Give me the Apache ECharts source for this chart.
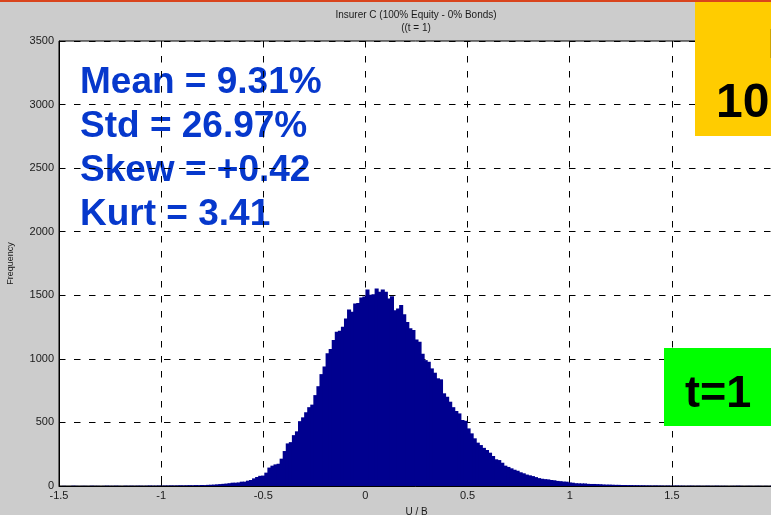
<!DOCTYPE html>
<html>
<head>
<meta charset="utf-8">
<script src="https://cdn.jsdelivr.net/npm/echarts@6/dist/echarts.min.js"></script>
<style>html,body{margin:0;padding:0;background:#cccccc;}#chart{width:771px;height:515px;}</style>
</head>
<body>
<div id="chart"></div>
<script>
// ---- data ----
const titleLines = ["Insurer C (100% Equity - 0% Bonds)", "((t = 1)"];
const xAxisName = "U / B";
const yAxisName = "Frequency";
const xTicks = [-1.5, -1, -0.5, 0, 0.5, 1, 1.5, 2];
const yTicks = [0, 500, 1000, 1500, 2000, 2500, 3000, 3500];
const statLines = ["Mean = 9.31%", "Std = 26.97%", "Skew = +0.42", "Kurt = 3.41"];
const boxYellowText = ["Equity", "100%"];
const boxGreenText = "t=1";
const binStart = -1.5;
const binWidth = 0.015;
const counts = [
  0,1,0,0,2,1,0,1,1,0,2,1,1,0,1,2,1,1,2,1,0,2,1,2,1,2,2,1,2,3,2,
  2,3,2,3,3,4,3,4,5,4,
  5,6,5,7,6,8,7,9,
  10,11,13,15,
  17,19,22,26,26,28,34,34,42,47,
  60,71,80,82,105,145,160,170,175,215,
  275,335,345,400,430,510,540,580,620,640,
  715,785,880,940,1045,1077,1148,1213,1221,1252,
  1318,1389,1370,1436,1440,1483,1490,1546,1505,1509,
  1554,1527,1546,1527,1475,1493,1383,1397,1423,1350,
  1290,1240,1226,1153,1134,1040,990,977,925,891,
  847,839,729,702,663,620,590,571,519,513,
  453,414,375,341,322,300,283,262,236,210,
  204,183,160,150,139,128,120,108,100,90,
  84,78,70,62,57,54,52,47,45,40,
  38,35,34,28,26,22,21,20,20,17,
  16,16,15,14,
  12,11,11,10,9,9,8,8,7,7,6,6,5,5,
  4,4,3,4,3,3,2,3,2,2,3,2,2,1,2,2,1,2,1,1,2,1,1,2,1,1,1,0,1,1,2,1,0,1,1,0,1,1,0,1,0,1,1
];

// ---- build ----
const histData = counts.map((c, i) => [binStart + i * binWidth, binStart + (i + 1) * binWidth, c]);
const FONT = '"Liberation Sans", Arial, Helvetica, sans-serif';
const G = { left: 59, top: 41, width: 715, height: 445 };

const chart = echarts.init(document.getElementById('chart'), null, { renderer: 'canvas' });

const graphics = [
  { type: 'rect', z: -10, silent: true, shape: { x: G.left, y: G.top, width: G.width, height: G.height }, style: { fill: '#ffffff' } },
  { type: 'rect', z: 50, silent: true, shape: { x: 0, y: 0, width: 771, height: 2 }, style: { fill: '#d9441c' } },
  { type: 'text', z: 5, style: { text: titleLines[0], x: 416, y: 15, align: 'center', verticalAlign: 'middle', font: '10px ' + FONT, fill: '#1a1a1a' } },
  { type: 'text', z: 5, style: { text: titleLines[1], x: 416, y: 28, align: 'center', verticalAlign: 'middle', font: '10px ' + FONT, fill: '#1a1a1a' } },
  // yellow box
  { type: 'rect', z: 40, silent: true, shape: { x: 695, y: 2, width: 80, height: 134 }, style: { fill: '#ffcc00' } },
  { type: 'text', z: 41, style: { text: boxYellowText[0], x: 768, y: 25, verticalAlign: 'top', font: 'bold 42px ' + FONT, fill: '#000000' } },
  { type: 'text', z: 41, style: { text: boxYellowText[1], x: 716, y: 80, verticalAlign: 'top', font: 'bold 48px ' + FONT, fill: '#000000' } },
  // green box
  { type: 'rect', z: 40, silent: true, shape: { x: 664, y: 348, width: 110, height: 78 }, style: { fill: '#00ff00' } },
  { type: 'text', z: 41, style: { text: boxGreenText, x: 685, y: 372, verticalAlign: 'top', font: 'bold 45px ' + FONT, fill: '#000000' } }
];
const statTop = [64, 108, 152, 196];
statLines.forEach((t, i) => {
  graphics.push({ type: 'text', z: -5, style: { text: t, x: 80, y: statTop[i], verticalAlign: 'top', font: 'bold 37px ' + FONT, fill: '#0638cc' } });
});

const option = {
  backgroundColor: '#cccccc',
  animation: false,
  grid: {
    left: G.left, top: G.top, width: G.width, height: G.height,
    show: true, backgroundColor: 'transparent', borderColor: '#000', borderWidth: 1,
    containLabel: false, outerBoundsMode: 'none'
  },
  xAxis: {
    type: 'value', min: xTicks[0], max: xTicks[xTicks.length - 1], interval: 0.5,
    name: xAxisName, nameLocation: 'middle', nameGap: 21,
    nameTextStyle: { fontSize: 10, color: '#1a1a1a', fontFamily: FONT },
    axisLine: { show: true, onZero: false, lineStyle: { color: '#000', width: 1 } },
    axisTick: { show: true, inside: true, length: 4, lineStyle: { color: '#000' } },
    axisLabel: { fontSize: 11, color: '#1a1a1a', fontFamily: FONT, margin: 4, showMaxLabel: false,
      formatter: v => String(v) },
    splitLine: { show: true, lineStyle: { color: '#000', width: 1, type: [6.5, 8.5] } }
  },
  yAxis: {
    type: 'value', min: yTicks[0], max: yTicks[yTicks.length - 1], interval: 500,
    name: yAxisName, nameLocation: 'middle', nameGap: 44, nameRotate: 90,
    nameTextStyle: { fontSize: 9, color: '#1a1a1a', fontFamily: FONT },
    axisLine: { show: true, onZero: false, lineStyle: { color: '#000', width: 1 } },
    axisTick: { show: true, inside: true, length: 4, lineStyle: { color: '#000' } },
    axisLabel: { fontSize: 11, color: '#1a1a1a', fontFamily: FONT, margin: 5, formatter: v => String(v) },
    splitLine: { show: true, lineStyle: { color: '#000', width: 1, type: [6.5, 8.5] } }
  },
  graphic: { elements: graphics },
  series: [{
    type: 'custom',
    clip: true,
    z: 3,
    data: histData,
    encode: { x: [0, 1], y: 2 },
    renderItem: function (params, api) {
      const p0 = api.coord([api.value(0), api.value(2)]);
      const p1 = api.coord([api.value(1), 0]);
      return {
        type: 'rect',
        shape: { x: p0[0], y: p0[1], width: p1[0] - p0[0] + 1, height: p1[1] - p0[1] },
        style: { fill: '#00008f' }
      };
    }
  }]
};
chart.setOption(option);
</script>
</body>
</html>
